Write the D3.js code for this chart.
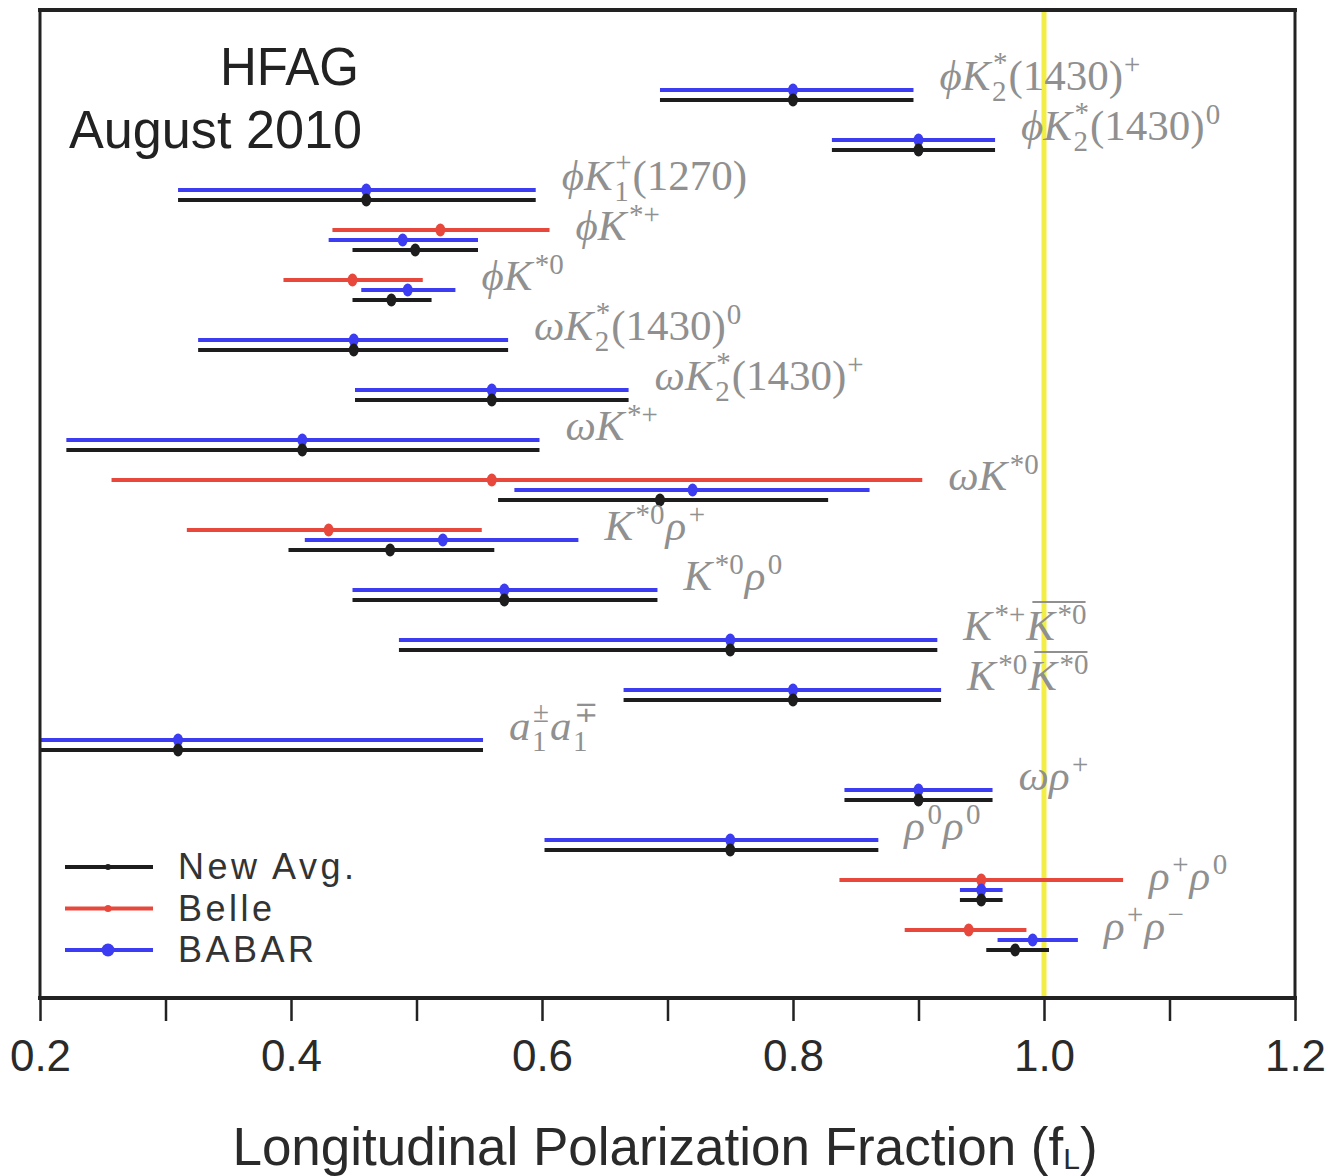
<!DOCTYPE html>
<html><head><meta charset="utf-8">
<script src="https://cdn.jsdelivr.net/npm/d3@7"></script>
<style>body{margin:0;background:#fff} svg{display:block}</style>
</head><body>
<svg id="c" width="1332" height="1176"></svg>
<script>
// ---- data ----
const decays = [
  "ϕK_{2}^{*}(1430)^{+}", "ϕK_{2}^{*}(1430)^{0}", "ϕK_{1}^{+}(1270)", "ϕK^{*+}", "ϕK^{*0}",
  "ωK_{2}^{*}(1430)^{0}", "ωK_{2}^{*}(1430)^{+}", "ωK^{*+}", "ωK^{*0}",
  "K^{*0}ρ^{+}", "K^{*0}ρ^{0}", "K^{*+}\\bar{K^{*0}}", "K^{*0}\\bar{K^{*0}}",
  "a_{1}^{±}a_{1}^{∓}", "ωρ^{+}", "ρ^{0}ρ^{0}", "ρ^{+}ρ^{0}", "ρ^{+}ρ^{−}"
];
const avgVal = [0.800, 0.900, 0.460, 0.499, 0.480, 0.450, 0.560, 0.409, 0.694, 0.479, 0.570, 0.750, 0.800, 0.310, 0.900, 0.750, 0.950, 0.977];
const avgLo  = [0.694, 0.831, 0.310, 0.449, 0.449, 0.326, 0.451, 0.221, 0.565, 0.398, 0.449, 0.486, 0.665, 0.190, 0.841, 0.602, 0.933, 0.954];
const avgHi  = [0.896, 0.961, 0.595, 0.549, 0.512, 0.573, 0.669, 0.598, 0.828, 0.562, 0.692, 0.915, 0.918, 0.553, 0.959, 0.868, 0.967, 1.004];
const babarVal = [0.800, 0.900, 0.460, 0.489, 0.493, 0.450, 0.560, 0.409, 0.720, 0.521, 0.570, 0.750, 0.800, 0.310, 0.900, 0.750, 0.950, 0.991];
const babarLo  = [0.694, 0.831, 0.310, 0.430, 0.456, 0.326, 0.451, 0.221, 0.578, 0.411, 0.449, 0.486, 0.665, 0.190, 0.841, 0.602, 0.933, 0.963];
const babarHi  = [0.896, 0.961, 0.595, 0.549, 0.531, 0.573, 0.669, 0.598, 0.861, 0.629, 0.692, 0.915, 0.918, 0.553, 0.959, 0.868, 0.967, 1.027];
const belleVal = [null, null, null, 0.519, 0.449, null, null, null, 0.560, 0.430, null, null, null, null, null, null, 0.950, 0.940];
const belleLo  = [null, null, null, 0.433, 0.394, null, null, null, 0.257, 0.317, null, null, null, null, null, null, 0.837, 0.889];
const belleHi  = [null, null, null, 0.606, 0.505, null, null, null, 0.903, 0.552, null, null, null, null, null, null, 1.063, 0.986];
const seriesNames = ["New Avg.", "Belle", "BABAR"];
const majorTicks = [0.2, 0.4, 0.6, 0.8, 1.0, 1.2];
const tickLabels = ["0.2", "0.4", "0.6", "0.8", "1.0", "1.2"];
const minorTicks = [0.3, 0.5, 0.7, 0.9, 1.1];
const refValue = 1.0;
const axisTitle = "Longitudinal Polarization Fraction (f";
const axisTitleSub = "L";
const stamp = ["HFAG", "August 2010"];

// ---- layout ----
const L = 40, R = 1295, T = 10, B = 998;
const svg = d3.select("#c");
const x = d3.scaleLinear().domain([0.2, 1.2]).range([L, R]);
const y = d3.scalePoint().domain(decays).range([100, 950]);
const COL = {avg: "#1d1d1d", belle: "#e8483c", babar: "#3c3cf2"};

svg.append("defs").append("clipPath").attr("id", "plotclip")
  .append("rect").attr("x", L).attr("y", T).attr("width", R - L).attr("height", B - T);

// reference line at 1.0
svg.append("line").attr("x1", x(refValue)).attr("x2", x(refValue)).attr("y1", T).attr("y2", B)
  .attr("stroke", "#f2ee45").attr("stroke-width", 5);

const series = [
  {key: "belle", val: belleVal, lo: belleLo, hi: belleHi, off: -20},
  {key: "babar", val: babarVal, lo: babarLo, hi: babarHi, off: -10},
  {key: "avg", val: avgVal, lo: avgLo, hi: avgHi, off: 0}
];
const plot = svg.append("g").attr("clip-path", "url(#plotclip)");
series.forEach(s => {
  const pts = decays.map((d, i) => ({d, v: s.val[i], lo: s.lo[i], hi: s.hi[i]})).filter(p => p.v != null);
  const g = plot.append("g");
  g.selectAll("line").data(pts).join("line")
    .attr("x1", p => x(p.lo)).attr("x2", p => x(p.hi))
    .attr("y1", p => y(p.d) + s.off).attr("y2", p => y(p.d) + s.off)
    .attr("stroke", COL[s.key]).attr("stroke-width", 4);
  g.selectAll("ellipse").data(pts).join("ellipse")
    .attr("cx", p => x(p.v)).attr("cy", p => y(p.d) + s.off)
    .attr("rx", 5).attr("ry", 6.5).attr("fill", COL[s.key]);
});

// ---- math-like labels ----
function parse(str) {
  const out = []; let i = 0; let run = "";
  const flush = () => { if (run) { out.push({t: "text", s: run}); run = ""; } };
  const group = () => {
    let depth = 0, j = i;
    for (; j < str.length; j++) { if (str[j] === "{") depth++; else if (str[j] === "}") { depth--; if (depth === 0) break; } }
    const inner = str.slice(i + 1, j); i = j + 1; return inner;
  };
  while (i < str.length) {
    if (str.startsWith("\\bar", i)) { flush(); i += 4; out.push({t: "bar", items: parse(group())}); continue; }
    const c = str[i];
    if (c === "_" || c === "^") {
      flush(); const sc = {t: "script", sub: null, sup: null};
      while (i < str.length && (str[i] === "_" || str[i] === "^")) {
        const k = str[i]; i++; const g = group();
        if (k === "_") sc.sub = g; else sc.sup = g;
      }
      out.push(sc); continue;
    }
    run += c; i++;
  }
  flush(); return out;
}
const FS = 43, SFS = 29, LABCOL = "#909090";
const LETTER = /[A-Za-zα-ωΑ-Ωϕ]/;
function put(g, s, x0, yb, size) {
  let xx = x0;
  const parts = s.match(/([A-Za-zα-ωΑ-Ωϕ]+|[^A-Za-zα-ωΑ-Ωϕ]+)/g) || [];
  parts.forEach(p => {
    const it = LETTER.test(p);
    const t = g.append("text").attr("x", xx).attr("y", yb).text(p)
      .attr("font-family", "'Liberation Serif', 'DejaVu Serif', serif")
      .attr("font-size", size).attr("font-style", it ? "italic" : "normal").attr("fill", LABCOL);
    xx += t.node().getComputedTextLength() + (it ? 1.5 : 0);
  });
  return xx;
}
function render(g, atoms, x0, yb) {
  let xx = x0;
  atoms.forEach(a => {
    if (a.t === "text") xx = put(g, a.s, xx, yb, FS);
    else if (a.t === "script") {
      let w = 0;
      const both = a.sub != null && a.sup != null;
      if (a.sup != null) w = Math.max(w, put(g, a.sup, xx + 1, yb - (both ? 18 : 16), SFS) - xx);
      if (a.sub != null) w = Math.max(w, put(g, a.sub, xx, yb + (both ? 11 : 8), SFS) - xx);
      xx += w + 1;
    } else if (a.t === "bar") {
      const x1 = xx; xx = render(g, a.items, xx, yb);
      g.append("line").attr("x1", x1 + 6).attr("x2", xx - 2).attr("y1", yb - 38).attr("y2", yb - 38)
        .attr("stroke", LABCOL).attr("stroke-width", 2);
    }
  });
  return xx;
}
const labG = svg.append("g");
decays.forEach((d, i) => {
  const hi = d3.max([avgHi[i], babarHi[i], belleHi[i]].filter(v => v != null));
  render(labG.append("g"), parse(d), x(hi) + 26, y(d) - 10);
});

// ---- frame & axis ----
svg.append("line").attr("x1", L - 2).attr("x2", R + 2).attr("y1", T).attr("y2", T).attr("stroke", "#222").attr("stroke-width", 4);
svg.append("line").attr("x1", L).attr("x2", L).attr("y1", T).attr("y2", B).attr("stroke", "#222").attr("stroke-width", 3);
svg.append("line").attr("x1", R).attr("x2", R).attr("y1", T).attr("y2", B).attr("stroke", "#222").attr("stroke-width", 3);

const ax = svg.append("g").attr("transform", `translate(0,${B})`)
  .call(d3.axisBottom(x).tickValues(majorTicks).tickSize(23).tickSizeOuter(0)
    .tickFormat((d, i) => tickLabels[i]));
const axm = svg.append("g").attr("transform", `translate(0,${B})`)
  .call(d3.axisBottom(x).tickValues(minorTicks).tickSize(23).tickSizeOuter(0).tickFormat(""));
[ax, axm].forEach(a => {
  a.select(".domain").remove();
  a.selectAll(".tick line").attr("stroke", "#222").attr("stroke-width", 2.5);
});
ax.selectAll(".tick text").attr("y", 73).attr("dy", 0)
  .attr("font-family", "'Liberation Sans', Arial, sans-serif").attr("font-size", 44).attr("fill", "#2a2a2a");
svg.append("line").attr("x1", L - 2).attr("x2", R + 2).attr("y1", B).attr("y2", B).attr("stroke", "#222").attr("stroke-width", 4);

const at = svg.append("text").attr("x", 665).attr("y", 1165).attr("text-anchor", "middle")
  .attr("font-family", "'Liberation Sans', Arial, sans-serif").attr("font-size", 53).attr("fill", "#2a2a2a");
at.append("tspan").text(axisTitle);
at.append("tspan").attr("font-size", 30).attr("dy", 4).text(axisTitleSub);
at.append("tspan").attr("dy", -4).text(")");

// stamp
svg.append("text").attr("x", 359).attr("y", 85).attr("text-anchor", "end")
  .attr("font-family", "'Liberation Sans', Arial, sans-serif").attr("font-size", 53).attr("fill", "#222")
  .attr("textLength", 139).attr("lengthAdjust", "spacingAndGlyphs").text(stamp[0]);
svg.append("text").attr("x", 362).attr("y", 148).attr("text-anchor", "end")
  .attr("font-family", "'Liberation Sans', Arial, sans-serif").attr("font-size", 53).attr("fill", "#222")
  .attr("textLength", 293).attr("lengthAdjust", "spacingAndGlyphs").text(stamp[1]);

// legend
const legY = d3.scalePoint().domain(seriesNames).range([867, 950]);
const legCol = {"New Avg.": COL.avg, "Belle": COL.belle, "BABAR": COL.babar};
const legR = {"New Avg.": 3, "Belle": 3.5, "BABAR": 6.5};
const lg = svg.append("g");
seriesNames.forEach(n => {
  const yy = legY(n);
  lg.append("line").attr("x1", 65).attr("x2", 153).attr("y1", yy).attr("y2", yy)
    .attr("stroke", legCol[n]).attr("stroke-width", 4);
  lg.append("circle").attr("cx", 108).attr("cy", yy).attr("r", legR[n]).attr("fill", legCol[n]);
  lg.append("text").attr("x", 178).attr("y", yy + 12).text(n)
    .attr("font-family", "'Liberation Sans', Arial, sans-serif").attr("font-size", 36)
    .attr("letter-spacing", 3.5).attr("fill", "#333");
});
</script>
</body></html>
